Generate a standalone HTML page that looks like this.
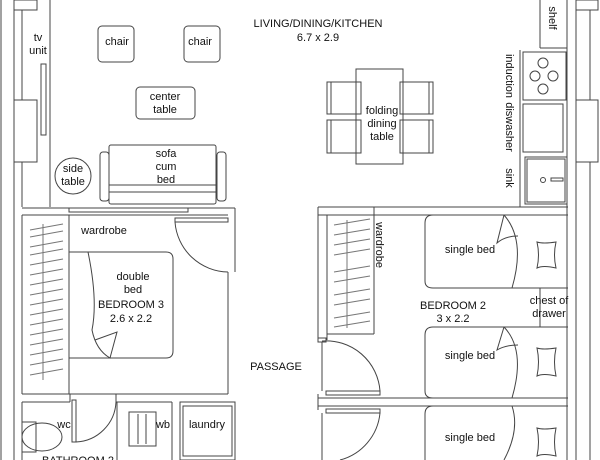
<!DOCTYPE html>
<html><head><meta charset="utf-8"><style>
html,body{margin:0;padding:0;background:#fff;}
svg{display:block;}
text{font-family:"Liberation Sans",sans-serif;font-size:11px;fill:#111;text-anchor:middle;}
</style></head><body>
<svg width="600" height="460" viewBox="0 0 600 460" xmlns="http://www.w3.org/2000/svg">
<g fill="none" stroke="#444" stroke-width="1">
<!-- left outer wall -->
<line x1="1" y1="0" x2="1" y2="460"/>
<line x1="14" y1="0" x2="14" y2="460"/>
<line x1="22" y1="10" x2="22" y2="100"/>
<line x1="22" y1="162" x2="22" y2="207"/>
<rect x="14" y="0" width="23" height="10"/>
<rect x="14" y="100" width="23" height="62"/>
<line x1="50" y1="0" x2="50" y2="207"/>
<rect x="41" y="64" width="5" height="71"/>
<!-- living furniture -->
<rect x="98" y="26" width="36" height="36" rx="4"/>
<rect x="184" y="26" width="36" height="36" rx="4"/>
<rect x="136" y="87" width="59" height="32" rx="4"/>
<rect x="109" y="145" width="107" height="59" rx="2"/>
<rect x="100" y="152" width="9" height="49" rx="3"/>
<rect x="217" y="152" width="9" height="49" rx="3"/>
<line x1="109" y1="185" x2="216" y2="185"/>
<line x1="109" y1="192" x2="216" y2="192"/>
<circle cx="73" cy="176" r="18"/>
<!-- dining -->
<rect x="356" y="69" width="47" height="95"/>
<rect x="331" y="82" width="30" height="32"/><rect x="327" y="82" width="4" height="32"/>
<rect x="331" y="120" width="30" height="33"/><rect x="327" y="120" width="4" height="33"/>
<rect x="400" y="82" width="29" height="32"/><rect x="429" y="82" width="4" height="32"/>
<rect x="400" y="120" width="29" height="33"/><rect x="429" y="120" width="4" height="33"/>
<!-- kitchen counter -->
<line x1="520" y1="50" x2="520" y2="207"/>
<line x1="567" y1="0" x2="567" y2="207"/>
<line x1="540" y1="0" x2="540" y2="48"/>
<line x1="540" y1="48" x2="567" y2="48"/>
<rect x="523" y="52" width="43" height="48"/>
<circle cx="543" cy="63" r="5"/><circle cx="535" cy="76" r="5"/><circle cx="553" cy="76" r="5"/><circle cx="543" cy="89" r="5"/>
<rect x="523" y="104" width="40" height="48"/>
<rect x="525" y="157" width="42" height="47"/>
<rect x="527" y="159" width="38" height="43"/>
<circle cx="543" cy="180" r="2.5"/><rect x="551" y="178" width="12" height="3"/>
<!-- right outer wall -->
<line x1="576" y1="0" x2="576" y2="460"/>
<line x1="590" y1="10" x2="590" y2="100"/>
<line x1="590" y1="162" x2="590" y2="460"/>
<rect x="576" y="0" width="22" height="10"/>
<rect x="576" y="100" width="22" height="62"/>
<!-- living bottom wall -->
<line x1="22" y1="208" x2="235" y2="208"/>
<line x1="22" y1="215" x2="228" y2="215"/>
<rect x="69" y="208" width="119" height="4"/>
<line x1="318" y1="207" x2="568" y2="207"/>
<line x1="318" y1="215" x2="520" y2="215"/>
<line x1="374" y1="207" x2="374" y2="215"/>
<!-- bedroom 3 -->
<line x1="22" y1="215" x2="22" y2="394"/>
<line x1="22" y1="394" x2="228" y2="394"/>
<line x1="228" y1="272" x2="228" y2="394"/>
<line x1="235" y1="208" x2="235" y2="272"/>
<rect x="175" y="218" width="53" height="4"/>
<path d="M175 222 A54 54 0 0 0 228 272"/>
<line x1="69" y1="215" x2="69" y2="394"/>
<path d="M69 252 H166 Q173 252 173 259 V351 Q173 358 166 358 H69"/>
<path d="M88 252 Q98 300 92 330 Q96 350 110 358 L117 332 L95 340"/>
<g stroke="#777">
<line x1="30" y1="230" x2="63" y2="224"/><line x1="30" y1="237" x2="63" y2="231"/>
<line x1="30" y1="247" x2="63" y2="241"/><line x1="30" y1="255" x2="63" y2="249"/>
<line x1="30" y1="265" x2="63" y2="259"/><line x1="30" y1="275" x2="63" y2="269"/>
<line x1="30" y1="285" x2="63" y2="279"/><line x1="30" y1="295" x2="63" y2="289"/>
<line x1="30" y1="305" x2="63" y2="299"/><line x1="30" y1="315" x2="63" y2="309"/>
<line x1="30" y1="325" x2="63" y2="319"/><line x1="30" y1="335" x2="63" y2="329"/>
<line x1="30" y1="345" x2="63" y2="339"/><line x1="30" y1="355" x2="63" y2="349"/>
<line x1="30" y1="365" x2="63" y2="359"/><line x1="30" y1="375" x2="63" y2="369"/>
<line x1="43" y1="224" x2="43" y2="380"/>
</g>
<!-- bathroom etc -->
<line x1="22" y1="402" x2="70" y2="402"/>
<line x1="70" y1="394" x2="70" y2="402"/>
<line x1="116" y1="394" x2="116" y2="402"/>
<line x1="116" y1="402" x2="172" y2="402"/>
<line x1="22" y1="402" x2="22" y2="460"/>
<rect x="72" y="400" width="4" height="42"/>
<path d="M76 442 A42 42 0 0 0 116 402"/>
<line x1="117" y1="402" x2="117" y2="460"/>
<line x1="172" y1="402" x2="172" y2="460"/>
<rect x="129" y="412" width="27" height="34"/>
<line x1="138" y1="414" x2="138" y2="444"/><line x1="146" y1="414" x2="146" y2="444"/>
<rect x="180" y="402" width="55" height="58"/>
<rect x="183" y="406" width="49" height="50"/>
<ellipse cx="42" cy="437" rx="20" ry="14"/>
<rect x="22" y="422" width="14" height="30"/>
<!-- bedroom 2 -->
<line x1="318" y1="207" x2="318" y2="340"/>
<line x1="327" y1="215" x2="327" y2="340"/>
<rect x="318" y="338" width="8" height="4"/>
<line x1="374" y1="215" x2="374" y2="334"/>
<line x1="327" y1="334" x2="374" y2="334"/>
<g stroke="#777">
<line x1="334" y1="225" x2="370" y2="219"/><line x1="334" y1="235" x2="370" y2="229"/>
<line x1="334" y1="245" x2="370" y2="239"/><line x1="334" y1="255" x2="370" y2="249"/>
<line x1="334" y1="272" x2="370" y2="266"/><line x1="334" y1="282" x2="370" y2="276"/>
<line x1="334" y1="295" x2="370" y2="289"/><line x1="334" y1="305" x2="370" y2="299"/>
<line x1="334" y1="318" x2="370" y2="312"/><line x1="334" y1="327" x2="370" y2="321"/>
<line x1="347" y1="220" x2="347" y2="328"/>
</g>
<path d="M568 215 H433 Q425 215 425 223 V281 Q425 288 433 288 H568"/>
<path d="M504 215 Q526 240 512 288"/><path d="M504 215 L497 243 Q505 236 518 236"/>
<path d="M537 242 Q543 244 556 242 Q553 255 556 268 Q543 265 537 268 Q540 255 537 242Z"/>
<line x1="540" y1="288" x2="540" y2="327"/>
<line x1="567" y1="207" x2="567" y2="460"/>
<path d="M568 327 H433 Q425 327 425 335 V391 Q425 398 433 398 H568"/>
<path d="M504 327 Q526 350 512 398"/><path d="M504 327 L497 350 Q505 345 518 345"/>
<path d="M537 348 Q543 350 556 348 Q553 362 556 376 Q543 373 537 376 Q540 362 537 348Z"/>
<line x1="318" y1="398" x2="568" y2="398"/>
<line x1="318" y1="406" x2="568" y2="406"/>
<line x1="318" y1="394" x2="318" y2="410"/>
<path d="M568 406 H433 Q425 406 425 414 V460"/>
<path d="M504 460 Q520 430 512 406"/>
<path d="M537 428 Q543 430 556 428 Q553 442 556 456 Q543 453 537 456 Q540 442 537 428Z"/>
<rect x="326" y="391" width="54" height="4"/>
<path d="M322 341 A54 54 0 0 1 380 391"/>
<rect x="326" y="409" width="54" height="4"/>
<path d="M380 413 A54 54 0 0 1 340 460"/>
<line x1="322" y1="342" x2="322" y2="391"/>
<line x1="322" y1="413" x2="322" y2="460"/>
</g>
<text x="318" y="27">LIVING/DINING/KITCHEN</text>
<text x="318" y="41">6.7 x 2.9</text>
<text x="38" y="41">tv</text><text x="38" y="54">unit</text>
<text x="117" y="45">chair</text><text x="200" y="45">chair</text>
<text x="165" y="100">center</text><text x="165" y="113">table</text>
<text x="166" y="157">sofa</text><text x="166" y="170">cum</text><text x="166" y="183">bed</text>
<text x="73" y="172">side</text><text x="73" y="185">table</text>
<text x="382" y="114">folding</text><text x="382" y="127">dining</text><text x="382" y="140">table</text>
<text transform="translate(549,18) rotate(90)">shelf</text>
<text transform="translate(506,76) rotate(90)">induction</text>
<text transform="translate(506,127) rotate(90)">diswasher</text>
<text transform="translate(506,178) rotate(90)">sink</text>
<text transform="translate(376,245) rotate(90)">wardrobe</text>
<text x="104" y="234">wardrobe</text>
<text x="133" y="280">double</text><text x="133" y="293">bed</text>
<text x="131" y="308">BEDROOM 3</text><text x="131" y="322">2.6 x 2.2</text>
<text x="276" y="370">PASSAGE</text>
<text x="453" y="309">BEDROOM 2</text><text x="453" y="322">3 x 2.2</text>
<text x="470" y="253">single bed</text><text x="470" y="359">single bed</text><text x="470" y="441">single bed</text>
<text x="549" y="304">chest of</text><text x="549" y="317">drawer</text>
<text x="64" y="428">wc</text><text x="163" y="428">wb</text><text x="207" y="428">laundry</text>
<text x="78" y="464">BATHROOM 2</text>
</svg>
</body></html>
